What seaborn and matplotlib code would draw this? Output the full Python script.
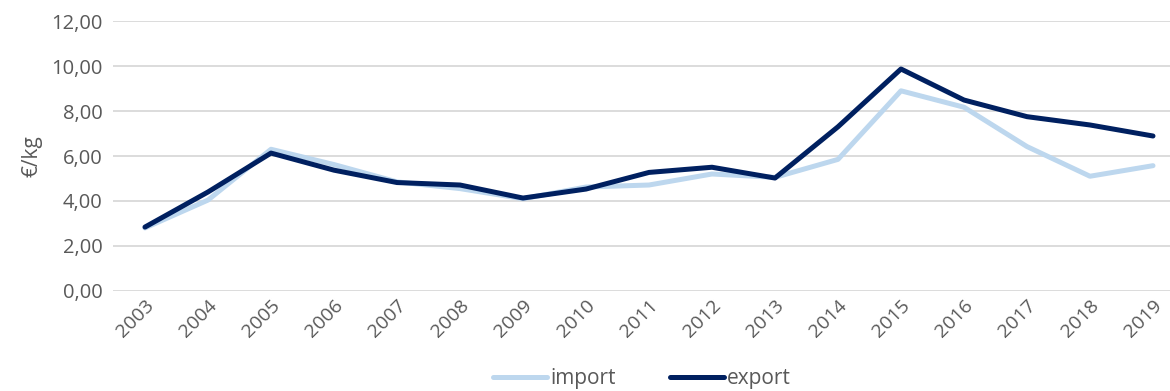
import pandas as pd
import matplotlib.pyplot as plt
import seaborn as sns
from matplotlib.ticker import FuncFormatter

# Data
years = [str(y) for y in range(2003, 2020)]
import_vals = [2.80, 4.04, 6.30, 5.62, 4.85, 4.55, 4.10, 4.62, 4.71, 5.20, 5.05,
               5.85, 8.90, 8.17, 6.42, 5.10, 5.57]
export_vals = [2.84, 4.40, 6.13, 5.37, 4.82, 4.71, 4.13, 4.53, 5.27, 5.50, 5.02,
               7.30, 9.87, 8.49, 7.75, 7.38, 6.89]

df = pd.DataFrame({
    "year": years * 2,
    "value": import_vals + export_vals,
    "series": ["import"] * len(years) + ["export"] * len(years),
})

sns.set_theme(style="white")
plt.rcParams["font.family"] = ["Open Sans", "DejaVu Sans"]

fig = plt.figure(figsize=(11.7, 3.91), dpi=100)
ax = fig.add_axes([0.097, 0.256, 0.903, 0.69])

palette = {"import": "#BDD7EE", "export": "#002060"}
sns.lineplot(data=df, x="year", y="value", hue="series", palette=palette,
             linewidth=3.6, sort=False, ax=ax, legend=True)

ax.set_ylim(0, 12)
ax.set_yticks(range(0, 13, 2))
ax.yaxis.set_major_formatter(FuncFormatter(lambda v, p: f"{v:.2f}".replace(".", ",")))
ax.set_xlim(-0.5, 16.27)
ax.grid(axis="y", color="#D9D9D9", linewidth=1.3)
ax.set_axisbelow(True)
for s in ax.spines.values():
    s.set_visible(False)

ax.set_xlabel("")
ax.set_ylabel("€/kg", fontsize=15, color="#595959", labelpad=6)
ax.tick_params(axis="y", labelsize=14.5, colors="#595959", length=0, pad=8)
ax.tick_params(axis="x", labelsize=14, colors="#595959", length=0, pad=4)
for lab in ax.get_xticklabels():
    lab.set_rotation(45)
    lab.set_ha("right")
    lab.set_rotation_mode("anchor")

leg = ax.legend(loc="center", bbox_to_anchor=(0.5, -0.325), ncol=2, frameon=False,
                fontsize=15, handlelength=2.6, handletextpad=0.15, columnspacing=2.6,
                labelcolor="#595959", borderaxespad=0, borderpad=0)

fig.savefig("out.png", dpi=100)
